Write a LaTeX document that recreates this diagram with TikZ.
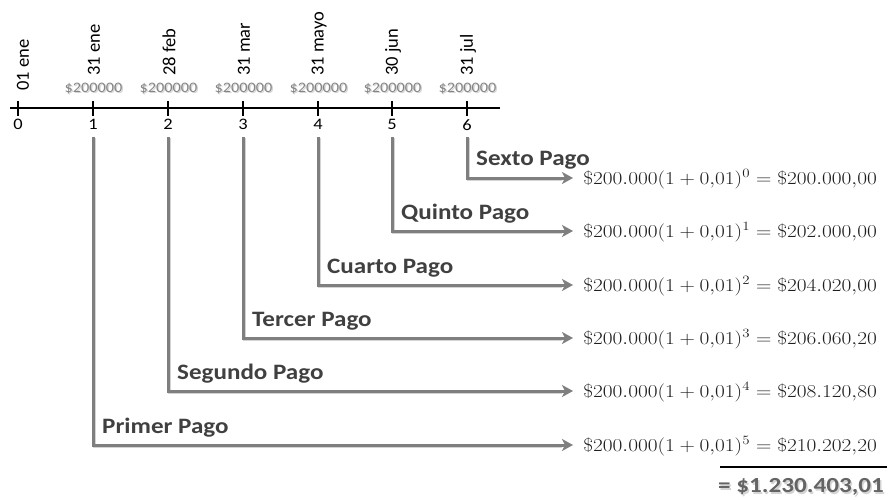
\RequirePackage{fix-cm}
\documentclass[tikz,border=0pt]{standalone}
\usepackage{fontspec}
\setmainfont{Carlito}
\usetikzlibrary{arrows.meta}
\definecolor{arrowgray}{HTML}{7F7F7F}
\definecolor{labelgray}{HTML}{404040}
\definecolor{moneygray}{HTML}{858585}
\definecolor{shadowgray}{HTML}{D4D4D4}
\definecolor{eqcolor}{HTML}{1E1E1E}
\newcommand\hstretch[2]{\scalebox{#1}[1]{#2}}
\begin{document}
\begin{tikzpicture}[x=1pt,y=-1pt,
  axisline/.style={line width=2.4pt,black},
  tickline/.style={line width=2pt,black},
  payarrow/.style={line width=3pt,arrowgray,-{Stealth[length=11pt,width=12pt,inset=3pt]}},
  shadowline/.style={line width=3pt,shadowgray},
  datelbl/.style={rotate=90,anchor=west,font=\fontsize{18.5}{18.5}\selectfont,inner sep=0pt},
  ticklbl/.style={anchor=north,font=\fontsize{16}{16}\selectfont,inner sep=0pt},
  moneylbl/.style={font=\fontsize{14.5}{14.5}\selectfont,text=moneygray,inner sep=0pt},
  moneyshadow/.style={font=\fontsize{14.5}{14.5}\selectfont,text=shadowgray,inner sep=0pt},
  paylbl/.style={anchor=base west,font=\fontsize{22}{22}\selectfont\bfseries,text=labelgray,inner sep=0pt},
  eqlbl/.style={anchor=east,font=\fontsize{18.2}{18.2}\selectfont,text=eqcolor,inner sep=0pt},
  totallbl/.style={anchor=east,font=\fontsize{21.5}{21.5}\selectfont\bfseries,inner sep=0pt},
]
\useasboundingbox (0,0) rectangle (889,500);

% axis
\coordinate (axL) at (10,108);
\coordinate (axR) at (500,108);
\draw[axisline] (axL) -- (axR);

\foreach \i/\x in {0/18,1/93,2/168,3/243,4/318,5/392,6/467}{
  \coordinate (t\i) at (\x,108);
  \draw[tickline] (\x,101) -- (\x,116);
  \node[ticklbl] (n\i) at (\x,119) {\hstretch{1.15}{\i}};
}
\node[datelbl] (d0) at (23,91) {01 ene};
\foreach \i/\x/\d in {1/93/31 ene,2/168/28 feb,3/243/31 mar,4/318/31 mayo,5/392/30 jun,6/467/31 jul}{
  \node[datelbl] (d\i) at (\x+1,76) {\d};
  \node[moneyshadow] at (\x+1.8,89.8) {\hstretch{1.12}{\$200000}};
  \node[moneylbl] (m\i) at (\x+0.5,88.5) {\hstretch{1.12}{\$200000}};
}

% payments
\foreach \i/\x/\y/\lab/\e/\v in {
  6/467/178/Sexto Pago/0/200.000{,}00,
  5/392/231/Quinto Pago/1/202.000{,}00,
  4/318/285/Cuarto Pago/2/204.020{,}00,
  3/243/338/Tercer Pago/3/206.060{,}20,
  2/168/391/Segundo Pago/4/208.120{,}80,
  1/93/445/Primer Pago/5/210.202{,}20}{
  \coordinate (s\i) at (\x,137);
  \coordinate (c\i) at (\x,\y);
  \coordinate (e\i) at (573,\y);
  \draw[shadowline] (\x+1.5,138.5) -- (\x+1.5,\y+1.8) -- (562,\y+1.8);
  \draw[payarrow] (s\i) -- (c\i) -- (e\i);
  \node[paylbl] (p\i) at (\x+9,\y-12) {\hstretch{1.14}{\lab}};
  \node[eqlbl] (q\i) at (877,\y+1) {\hstretch{1.17}{$\$200.000(1+0{,}01)^{\e}=\$\v$}};
}

% total
\coordinate (tl) at (720,467);
\coordinate (tr) at (887,467);
\draw[line width=2.6pt,black] (tl) -- (tr);
\node[totallbl,text=shadowgray] at (885.5,488.5) {\hstretch{1.17}{= \$1.230.403,01}};
\node[totallbl,text=moneygray!75!black] (tot) at (884,487) {\hstretch{1.17}{= \$1.230.403,01}};
\end{tikzpicture}
\end{document}
